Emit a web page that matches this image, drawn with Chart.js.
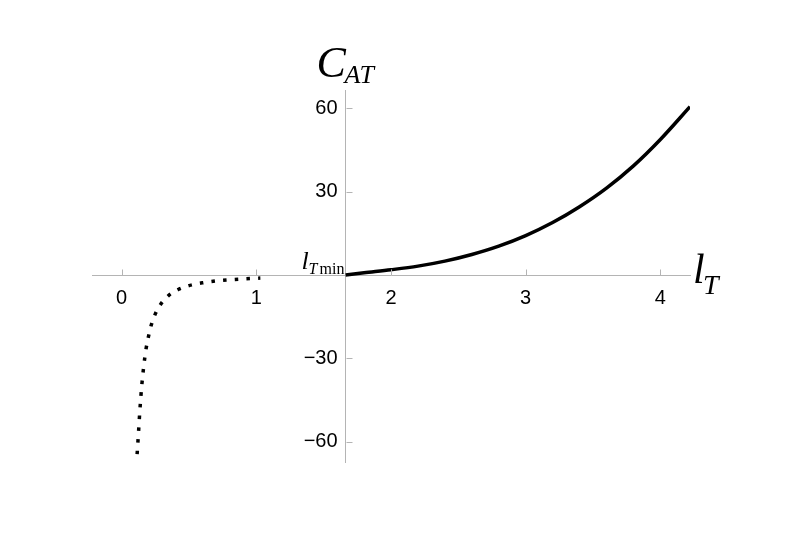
<!DOCTYPE html>
<html>
<head>
<meta charset="utf-8">
<script src="https://cdn.jsdelivr.net/npm/chart.js@4.4.1/dist/chart.umd.min.js"></script>
<style>
  html, body { margin: 0; padding: 0; background: #fff; }
  #wrap { width: 785px; height: 555px; }
</style>
</head>
<body>
<div id="wrap"><canvas id="chart" width="785" height="555"></canvas></div>
<script>
// solid branch (l_T > l_Tmin)
const solidX = [1.663, 1.8, 2.0, 2.2, 2.4, 2.6, 2.8, 3.0, 3.2, 3.4, 3.6, 3.8, 4.0, 4.22];
const solidY = [0, 0.8, 1.9, 3.2, 5.0, 7.4, 10.4, 14.2, 18.9, 24.6, 31.3, 39.3, 48.8, 60.6];

// dotted branch (0 < l_T < 1)
const dottedX = [0.115, 0.125, 0.135, 0.15, 0.165, 0.18, 0.2, 0.22, 0.25, 0.29, 0.35, 0.42, 0.5, 0.6, 0.7, 0.8, 0.9, 1.03];
const dottedY = [-64.5, -57, -49, -39.5, -32.5, -27, -22, -18, -14, -10.5, -7.3, -5.2, -3.8, -2.8, -2.1, -1.7, -1.4, -1.1];

const xTicks = [0, 1, 2, 3, 4];
const yTicks = [-60, -30, 30, 60];
const lTmin = 1.663;

const axisGray = '#b4b4b4';

function toPoints(xs, ys) {
    return xs.map((x, i) => ({ x: x, y: ys[i] }));
}

// small tick marks pointing into the plot, like the original
const tickMarks = {
    id: 'tickMarks',
    afterDraw(chart) {
        const ctx = chart.ctx;
        const xs = chart.scales.x, ys = chart.scales.y;
        const x0 = Math.round(xs.getPixelForValue(lTmin)) + 0.5;
        const y0 = Math.round(ys.getPixelForValue(0)) + 0.5;
        ctx.save();
        ctx.strokeStyle = axisGray;
        ctx.lineWidth = 1;
        ctx.beginPath();
        xTicks.forEach(v => {
            const px = Math.round(xs.getPixelForValue(v)) + 0.5;
            ctx.moveTo(px, y0);
            ctx.lineTo(px, y0 - 6);
        });
        yTicks.forEach(v => {
            const py = Math.round(ys.getPixelForValue(v)) + 0.5;
            ctx.moveTo(x0, py);
            ctx.lineTo(x0 + 6, py);
        });
        ctx.stroke();

        // axis labels
        ctx.fillStyle = '#000';
        ctx.textBaseline = 'alphabetic';
        ctx.textAlign = 'left';
        // C_AT at the top of the vertical axis
        ctx.font = 'italic 44px "Liberation Serif"';
        ctx.fillText('C', x0 - 30, 77);
        ctx.font = 'italic 26px "Liberation Serif"';
        ctx.fillText('AT', x0 - 2, 83);
        // l_T at the end of the horizontal axis
        ctx.font = 'italic 42px "Liberation Serif"';
        ctx.fillText('l', chart.chartArea.right + 3, 283);
        ctx.font = 'italic 28px "Liberation Serif"';
        ctx.fillText('T', chart.chartArea.right + 13, 294);
        // l_Tmin at the origin
        ctx.font = 'italic 26px "Liberation Serif"';
        ctx.fillText('l', x0 - 45, 269);
        ctx.font = 'italic 16px "Liberation Serif"';
        ctx.fillText('T', x0 - 38, 274);
        ctx.font = '16px "Liberation Serif"';
        ctx.fillText('min', x0 - 27, 274);
        ctx.restore();
    }
};

const ctx = document.getElementById('chart');
new Chart(ctx, {
    type: 'line',
    data: {
        datasets: [
            {
                data: toPoints(solidX, solidY),
                borderColor: '#000',
                borderWidth: 3.5,
                pointRadius: 0,
                cubicInterpolationMode: 'monotone',
                fill: false
            },
            {
                data: toPoints(dottedX, dottedY),
                borderColor: '#000',
                borderWidth: 3.5,
                borderDash: [3.5, 8.2],
                borderCapStyle: 'butt',
                pointRadius: 0,
                cubicInterpolationMode: 'monotone',
                fill: false
            }
        ]
    },
    options: {
        responsive: false,
        animation: false,
        layout: { padding: { left: 92, right: 95, top: 90, bottom: 93 } },
        plugins: { legend: { display: false }, tooltip: { enabled: false } },
        scales: {
            x: {
                type: 'linear',
                min: -0.22,
                max: 4.22,
                position: { y: 0 },
                afterFit: s => { s.height = 0; },
                afterBuildTicks: s => { s.ticks = xTicks.map(v => ({ value: v })); },
                grid: { display: false },
                border: { display: true, color: axisGray, width: 1 },
                ticks: {
                    color: '#000',
                    font: { family: 'Liberation Sans', size: 20 },
                    padding: 3,
                    maxRotation: 0,
                    callback: v => String(v)
                }
            },
            y: {
                type: 'linear',
                min: -67.3,
                max: 66.6,
                position: { x: lTmin },
                afterFit: s => { s.width = 0; },
                afterBuildTicks: s => { s.ticks = yTicks.map(v => ({ value: v })); },
                grid: { display: false },
                border: { display: true, color: axisGray, width: 1 },
                ticks: {
                    color: '#000',
                    font: { family: 'Liberation Sans', size: 20 },
                    // labels sit right on the axis line here, so pad them with spaces
                    callback: v => (v < 0 ? '\u2212' + Math.abs(v) : String(v)) + '\u2009\u2009'
                }
            }
        }
    },
    plugins: [tickMarks]
});
</script>
</body>
</html>
